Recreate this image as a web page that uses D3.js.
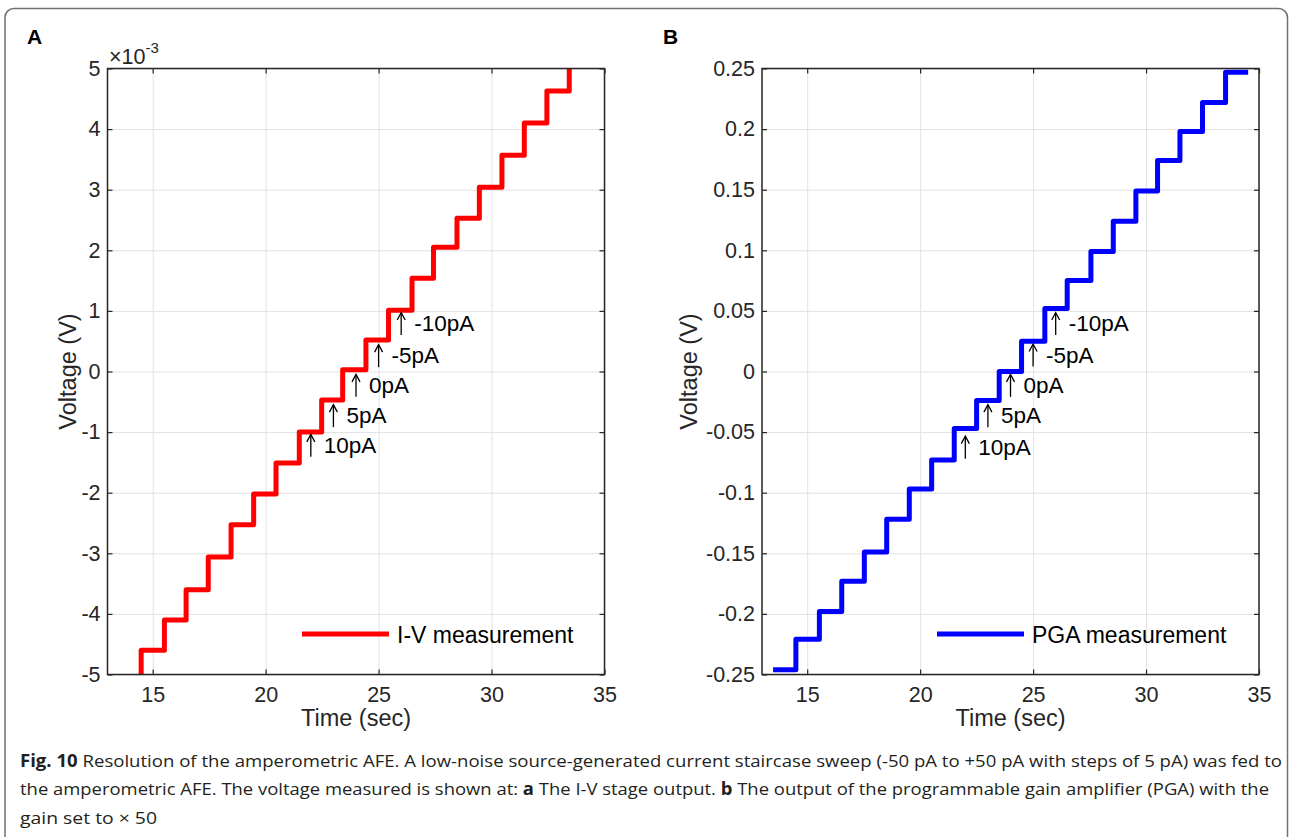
<!DOCTYPE html>
<html>
<head>
<meta charset="utf-8">
<script src="https://cdn.jsdelivr.net/npm/d3@7"></script>
<style>
  body { margin: 0; background: #fff; }
  svg text { font-family: "Liberation Sans", Arial, Helvetica, sans-serif; }
</style>
</head>
<body>
<div id="app"></div>
<script>
// step start times (sec) and plateau levels
// I-V stage output, levels in units of 1e-3 V
const ivTimes = [14.3, 14.49, 15.52, 16.48, 17.46, 18.47, 19.47, 20.46, 21.49, 22.48, 23.41,
    24.44, 25.44, 26.48, 27.43, 28.47, 29.46, 30.46, 31.45, 32.45, 33.44, 34.0];
const ivLevels = [-5.2, -4.6, -4.1, -3.6, -3.06, -2.53, -2.02, -1.51, -1.0, -0.47, 0.03,
    0.52, 1.01, 1.54, 2.05, 2.53, 3.04, 3.57, 4.1, 4.63, 5.3, 5.3];

// PGA output, levels in V
const pgaTimes = [13.49, 14.5, 15.54, 16.53, 17.53, 18.52, 19.52, 20.51, 21.51, 22.5, 23.5,
    24.49, 25.52, 26.51, 27.56, 28.55, 29.55, 30.51, 31.5, 32.5, 33.52, 34.52];
const pgaLevels = [-0.246, -0.221, -0.198, -0.173, -0.149, -0.122, -0.097, -0.073, -0.047, -0.024, 0.0,
    0.025, 0.052, 0.075, 0.099, 0.124, 0.149, 0.174, 0.198, 0.222, 0.247, 0.247];

const timeTicks = [15, 20, 25, 30, 35];
const ivTicks = [-5, -4, -3, -2, -1, 0, 1, 2, 3, 4, 5];
const ivTickLabels = ["-5", "-4", "-3", "-2", "-1", "0", "1", "2", "3", "4", "5"];
const pgaTicks = [-0.25, -0.2, -0.15, -0.1, -0.05, 0, 0.05, 0.1, 0.15, 0.2, 0.25];
const pgaTickLabels = ["-0.25", "-0.2", "-0.15", "-0.1", "-0.05", "0", "0.05", "0.1", "0.15", "0.2", "0.25"];

// current step annotations
const annotTimes = [22, 23, 24, 25, 26];
const annotLabels = ["10pA", "5pA", "0pA", "-5pA", "-10pA"];
const ivAnnotV = [-1.21, -0.72, -0.22, 0.27, 0.8];
const pgaAnnotV = [-0.062, -0.036, -0.011, 0.014, 0.04];

const width = 1292, height = 837;

const svg = d3.select("#app")
    .append("svg")
    .attr("width", width)
    .attr("height", height);

// outer frame of the figure
svg.append("rect")
    .attr("x", 5).attr("y", 8.5)
    .attr("width", 1282.5).attr("height", 900)
    .attr("rx", 9)
    .attr("fill", "none")
    .attr("stroke", "#707070")
    .attr("stroke-width", 1.5);

function drawPanel(p) {
    const x = d3.scaleLinear().domain([13, 35]).range([p.left, p.right]);
    const y = d3.scaleLinear().domain(p.yDomain).range([p.bottom, p.top]);
    const g = svg.append("g");
    const h = p.bottom - p.top, w = p.right - p.left;

    // grid
    g.append("g")
        .attr("transform", `translate(0,${p.bottom})`)
        .call(d3.axisBottom(x).tickValues(timeTicks).tickSize(-h).tickFormat(""))
        .call(s => s.select(".domain").remove())
        .selectAll("line").attr("stroke", "#e2e2e2").attr("stroke-width", 1);
    g.append("g")
        .attr("transform", `translate(${p.left},0)`)
        .call(d3.axisLeft(y).tickValues(p.yTicks).tickSize(-w).tickFormat(""))
        .call(s => s.select(".domain").remove())
        .selectAll("line").attr("stroke", "#e2e2e2").attr("stroke-width", 1);

    // data
    g.append("clipPath").attr("id", p.id + "-clip")
        .append("rect")
        .attr("x", p.left).attr("y", p.top)
        .attr("width", w).attr("height", h);

    const line = d3.line()
        .x((d, i) => x(p.times[i]))
        .y(d => y(d))
        .curve(d3.curveStepAfter);

    g.append("path")
        .datum(p.levels)
        .attr("clip-path", `url(#${p.id}-clip)`)
        .attr("d", line)
        .attr("fill", "none")
        .attr("stroke", p.color)
        .attr("stroke-width", 5)
        .attr("stroke-linejoin", "round");

    // axes with inward ticks on all four sides
    const tickCol = "#262626";
    const bx = g.append("g")
        .attr("transform", `translate(0,${p.bottom})`)
        .call(d3.axisBottom(x).tickValues(timeTicks).tickSizeInner(-5).tickSizeOuter(0).tickPadding(12));
    const lx = g.append("g")
        .attr("transform", `translate(${p.left},0)`)
        .call(d3.axisLeft(y).tickValues(p.yTicks).tickSizeInner(-5).tickSizeOuter(0).tickPadding(7)
            .tickFormat((d, i) => p.yLabels[i]));
    const tx = g.append("g")
        .attr("transform", `translate(0,${p.top})`)
        .call(d3.axisTop(x).tickValues(timeTicks).tickSizeInner(-5).tickSizeOuter(0).tickFormat(""));
    const rx = g.append("g")
        .attr("transform", `translate(${p.right},0)`)
        .call(d3.axisRight(y).tickValues(p.yTicks).tickSizeInner(-5).tickSizeOuter(0).tickFormat(""));

    [bx, lx, tx, rx].forEach(a => {
        a.select(".domain").remove();
        a.selectAll("line").attr("stroke", tickCol).attr("stroke-width", 1.2);
        a.selectAll("text")
            .attr("fill", tickCol)
            .style("font-size", "21.5px")
            .style("font-family", "'Liberation Sans', Arial, sans-serif");
    });

    g.append("rect")
        .attr("x", p.left).attr("y", p.top)
        .attr("width", w).attr("height", h)
        .attr("fill", "none")
        .attr("stroke", tickCol)
        .attr("stroke-width", 1.5);

    // axis labels
    g.append("text")
        .attr("x", (p.left + p.right) / 2)
        .attr("y", 726)
        .attr("text-anchor", "middle")
        .attr("fill", tickCol)
        .style("font-size", "23.5px")
        .text("Time (sec)");
    g.append("text")
        .attr("transform", `translate(${p.ylabelX},${(p.top + p.bottom) / 2}) rotate(-90)`)
        .attr("text-anchor", "middle")
        .attr("dy", "0.35em")
        .attr("fill", tickCol)
        .style("font-size", "23.5px")
        .text("Voltage (V)");

    // panel letter
    g.append("text")
        .attr("x", p.letterX).attr("y", 44)
        .attr("fill", "#000")
        .style("font-size", "21px")
        .style("font-weight", "bold")
        .text(p.letter);

    // annotations: thin up-arrow followed by label
    const ann = g.append("g").selectAll("g")
        .data(annotLabels).enter()
        .append("g")
        .attr("transform", (d, i) => `translate(${x(annotTimes[i])},${y(p.annotV[i])})`);
    ann.append("line")
        .attr("x1", 0).attr("x2", 0)
        .attr("y1", -10).attr("y2", 12)
        .attr("stroke", "#000").attr("stroke-width", 1.3);
    ann.append("path")
        .attr("d", "M-4,-3 L0,-10.5 L4,-3")
        .attr("fill", "none")
        .attr("stroke", "#000").attr("stroke-width", 1.3);
    ann.append("text")
        .attr("x", 13).attr("y", 8)
        .attr("fill", "#000")
        .style("font-size", "22.5px")
        .text(d => d);

    // legend
    g.append("line")
        .attr("x1", p.legendX).attr("x2", p.legendX + 87)
        .attr("y1", 634).attr("y2", 634)
        .attr("stroke", p.color).attr("stroke-width", 5);
    g.append("text")
        .attr("x", p.legendX + 95).attr("y", 643)
        .attr("fill", "#000")
        .style("font-size", "23px")
        .text(p.legend);

    return g;
}

const gA = drawPanel({
    id: "a", letter: "A", letterX: 27,
    left: 107.5, right: 604.5, top: 68.5, bottom: 674.5,
    yDomain: [-5, 5], yTicks: ivTicks, yLabels: ivTickLabels,
    times: ivTimes, levels: ivLevels, color: "#ff0000",
    annotV: ivAnnotV, ylabelX: 68,
    legendX: 302, legend: "I-V measurement"
});

// x10^-3 multiplier above panel A
const mult = gA.append("text")
    .attr("x", 109).attr("y", 64)
    .attr("fill", "#262626")
    .style("font-size", "21.5px");
mult.append("tspan").text("\u00d710");
mult.append("tspan").attr("dy", -11).style("font-size", "15px").text("-3");

drawPanel({
    id: "b", letter: "B", letterX: 663,
    left: 762, right: 1259, top: 68.5, bottom: 674.5,
    yDomain: [-0.25, 0.25], yTicks: pgaTicks, yLabels: pgaTickLabels,
    times: pgaTimes, levels: pgaLevels, color: "#0000ff",
    annotV: pgaAnnotV, ylabelX: 689,
    legendX: 937, legend: "PGA measurement"
});

// caption
const capFont = "'Open Sans', 'Noto Sans', sans-serif";
const cap1 = svg.append("text")
    .attr("x", 20).attr("y", 767)
    .attr("textLength", 1262).attr("lengthAdjust", "spacingAndGlyphs")
    .attr("fill", "#231f20")
    .style("font-family", capFont).style("font-size", "17px");
cap1.append("tspan").style("font-weight", "bold").text("Fig. 10");
cap1.append("tspan").text(" Resolution of the amperometric AFE. A low-noise source-generated current staircase sweep (-50 pA to +50 pA with steps of 5 pA) was fed to");

const cap2 = svg.append("text")
    .attr("x", 20).attr("y", 795)
    .attr("textLength", 1249).attr("lengthAdjust", "spacingAndGlyphs")
    .attr("fill", "#231f20")
    .style("font-family", capFont).style("font-size", "17px");
cap2.append("tspan").text("the amperometric AFE. The voltage measured is shown at: ");
cap2.append("tspan").style("font-weight", "bold").text("a");
cap2.append("tspan").text(" The I-V stage output. ");
cap2.append("tspan").style("font-weight", "bold").text("b");
cap2.append("tspan").text(" The output of the programmable gain amplifier (PGA) with the");

svg.append("text")
    .attr("x", 20).attr("y", 824)
    .attr("textLength", 137).attr("lengthAdjust", "spacingAndGlyphs")
    .attr("fill", "#231f20")
    .style("font-family", capFont).style("font-size", "17px")
    .text("gain set to \u00d7 50");
</script>
</body>
</html>
